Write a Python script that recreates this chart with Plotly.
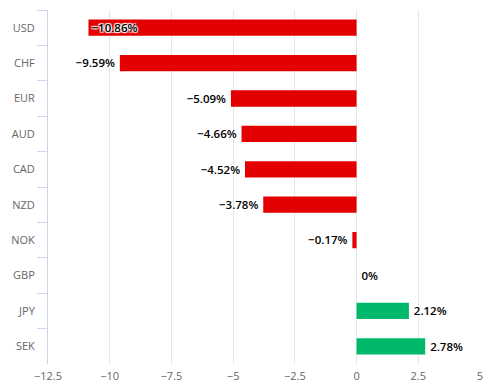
import plotly.graph_objects as go

currencies = ["USD", "CHF", "EUR", "AUD", "CAD", "NZD", "NOK", "GBP", "JPY", "SEK"]
changes = [-10.86, -9.59, -5.09, -4.66, -4.52, -3.78, -0.17, 0.0, 2.12, 2.78]
x_ticks = [-12.5, -10, -7.5, -5, -2.5, 0, 2.5, 5]

RED = "#e30000"
GREEN = "#00b96b"

def fmt(v):
    s = ("%g" % abs(v))
    if v == 0:
        s = "0"
    return ("\u2212" if v < 0 else "") + s + "%"

def tick_fmt(v):
    s = "%g" % abs(v)
    return ("\u2212" if v < 0 else "") + s

colors = [RED if v < 0 else GREEN for v in changes]
positions = ["inside" if v <= -10 else "outside" for v in changes]
labels = []
for v, p in zip(changes, positions):
    t = fmt(v)
    if p == "outside":
        t = (t + "\u2009") if v < 0 else ("\u2009" + t)
    labels.append(t)

fig = go.Figure(go.Bar(
    x=changes,
    y=currencies,
    orientation="h",
    marker=dict(color=colors, line=dict(width=0)),
    text=labels,
    textposition=positions,
    insidetextanchor="end",
    textfont=dict(family="Open Sans, sans-serif", size=12, color="#000000", weight=600,
                  shadow="1px 1px 1px #fff, -1px -1px 1px #fff, 1px -1px 1px #fff, -1px 1px 1px #fff"),
    insidetextfont=dict(color="#000000"),
    outsidetextfont=dict(color="#000000"),
    cliponaxis=False,
    hoverinfo="skip",
))

fig.update_layout(
    width=503, height=391,
    margin=dict(l=48, r=23, t=10, b=27),
    paper_bgcolor="white", plot_bgcolor="white",
    bargap=0.54,
    showlegend=False,
    font=dict(family="Open Sans, sans-serif", size=11, color="#666666"),
    uniformtext=dict(minsize=11, mode="show"),
)
fig.update_xaxes(
    range=[-12.5, 5],
    tickvals=x_ticks,
    ticktext=[tick_fmt(v) for v in x_ticks],
    showgrid=True, gridcolor="#e6e6e6", gridwidth=1,
    zeroline=False, showline=False, ticks="",
    ticklabelstandoff=4,
    tickfont=dict(size=11, color="#666666"),
    automargin=False,
    fixedrange=True,
)
fig.update_yaxes(
    categoryorder="array", categoryarray=currencies,
    autorange="reversed",
    showgrid=False, zeroline=False,
    showline=True, linecolor="#ccd6eb", linewidth=1,
    ticks="outside", tickson="boundaries", ticklen=10, tickcolor="#ccd6eb",
    ticklabelstandoff=10,
    tickfont=dict(size=11, color="#666666"),
    automargin=False,
    fixedrange=True,
)

fig.write_html("out.html", config={"displayModeBar": False},
               post_script="document.body.style.margin='0px';")
